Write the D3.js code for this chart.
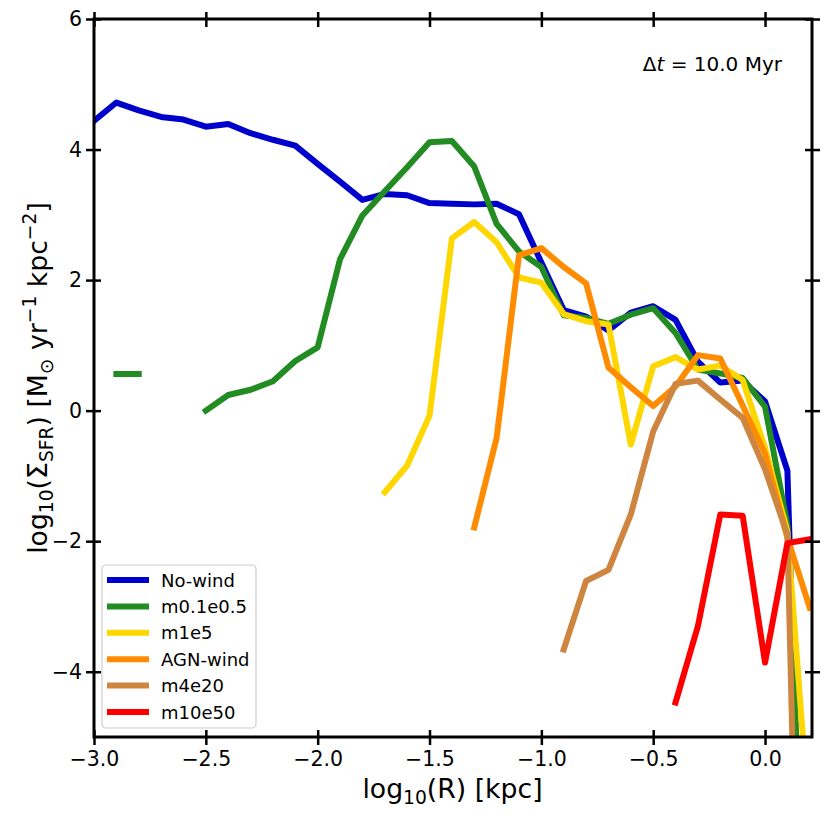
<!DOCTYPE html>
<html>
<head>
<meta charset="utf-8">
<script src="https://cdn.jsdelivr.net/npm/d3@7"></script>
<style>
  body { margin: 0; background: #fff; }
  svg, svg text { font-family: 'DejaVu Sans', sans-serif; }
</style>
</head>
<body>
<svg id="chart" width="831" height="816"></svg>
<script>
// radial bins, log10(R) [kpc]
const logR = [-3.0, -2.9, -2.8, -2.7, -2.6, -2.5, -2.4, -2.3, -2.2, -2.1, -2.0,
  -1.9, -1.8, -1.7, -1.6, -1.5, -1.4, -1.3, -1.2, -1.1, -1.0,
  -0.9, -0.8, -0.7, -0.6, -0.5, -0.4, -0.3, -0.2, -0.1, 0.0, 0.1, 0.2];

const N = NaN;
const noWind = [4.44, 4.72, 4.60, 4.50, 4.46, 4.35, 4.39, 4.25, 4.15, 4.06, 3.78,
  3.51, 3.23, 3.32, 3.30, 3.18, 3.17, 3.16, 3.17, 3.01, 2.27,
  1.54, 1.44, 1.23, 1.50, 1.60, 1.39, 0.75, 0.43, 0.46, 0.14, -0.92, -12.0];
const m01e05 = [N, 0.56, 0.56, N, N, 0.00, 0.24, 0.32, 0.45, 0.76, 0.97,
  2.32, 2.99, 3.36, 3.73, 4.11, 4.13, 3.74, 2.86, 2.44, 2.20,
  1.46, 1.42, 1.33, 1.47, 1.57, 1.19, 0.63, 0.57, 0.50, 0.06, -1.75, -10.0];
const m1e5 = [N, N, N, N, N, N, N, N, N, N, N,
  N, N, -1.25, -0.84, -0.08, 2.64, 2.89, 2.58, 2.04, 1.96,
  1.48, 1.37, 1.32, -0.52, 0.68, 0.82, 0.63, 0.69, 0.47, -0.57, -1.85, -6.4];
const agnWind = [N, N, N, N, N, N, N, N, N, N, N,
  N, N, N, N, N, N, -1.79, -0.42, 2.38, 2.49,
  2.20, 1.95, 0.66, 0.36, 0.07, 0.37, 0.85, 0.80, 0.08, -0.66, -1.95, -3.02];
const m4e20 = [N, N, N, N, N, N, N, N, N, N, N,
  N, N, N, N, N, N, N, N, N, N,
  -3.66, -2.61, -2.44, -1.59, -0.32, 0.41, 0.46, 0.17, -0.11, -0.90, -1.90, -16.0];
const m10e50 = [N, N, N, N, N, N, N, N, N, N, N,
  N, N, N, N, N, N, N, N, N, N,
  N, N, N, N, N, -4.47, -3.30, -1.59, -1.61, -3.86, -2.03, -1.97];

const seriesNames = ['No-wind', 'm0.1e0.5', 'm1e5', 'AGN-wind', 'm4e20', 'm10e50'];
const seriesValues = [noWind, m01e05, m1e5, agnWind, m4e20, m10e50];
const seriesColors = ['#0000cd', '#228b22', '#ffd700', '#ff8c00', '#cd853f', '#ff0000'];

const xTicks = [-3.0, -2.5, -2.0, -1.5, -1.0, -0.5, 0.0];
const yTicks = [-4, -2, 0, 2, 4, 6];

const svg = d3.select('#chart');
const cs = {
  margin: { left: 94, top: 19, right: 19, bottom: 79 },
  x: { domain: [-3.0, 0.21] },
  y: { domain: [-5, 6] },
  tick: { inner: 7, outer: 8, width: 2.5, font: 20.5 },
  label: 26.7,
  frame: 3,
  lineWidth: 6,
};
const W = 831 - cs.margin.left - cs.margin.right;
const H = 816 - cs.margin.top - cs.margin.bottom;

const x = d3.scaleLinear().domain(cs.x.domain).range([0, W]);
const y = d3.scaleLinear().domain(cs.y.domain).range([H, 0]);

const g = svg.append('g').attr('transform', `translate(${cs.margin.left},${cs.margin.top})`);

g.append('clipPath').attr('id', 'clip')
  .append('rect').attr('width', W).attr('height', H);

/**
 * draw the profiles
 */
const line = d3.line()
  .defined(d => !isNaN(d[1]))
  .x(d => x(d[0]))
  .y(d => y(d[1]));

const lines = g.append('g').attr('clip-path', 'url(#clip)');
seriesValues.forEach((vals, i) => {
  lines.append('path')
    .datum(logR.map((r, j) => [r, vals[j]]))
    .attr('d', line)
    .attr('fill', 'none')
    .attr('stroke', seriesColors[i])
    .attr('stroke-width', cs.lineWidth)
    .attr('stroke-linejoin', 'round')
    .attr('stroke-linecap', 'square');
});

/**
 * axes with in-out ticks on all four sides
 */
const fmtX = d3.format('.1f');
const fmtY = d3.format('d');
const styleAxis = (sel, horizontal, labels) => {
  sel.attr('font-family', 'DejaVu Sans').attr('font-size', cs.tick.font);
  sel.select('.domain').remove();
  sel.selectAll('.tick line')
    .attr('stroke', '#000')
    .attr('stroke-width', cs.tick.width)
    .attr(horizontal ? 'y1' : 'x1', -cs.tick.inner)
    .attr(horizontal ? 'y2' : 'x2', cs.tick.outer);
  sel.selectAll('.tick text')
    .attr('fill', '#000')
    .style('display', labels ? null : 'none');
};

g.append('g').attr('transform', `translate(0,${H})`)
  .call(d3.axisBottom(x).tickValues(xTicks).tickFormat(fmtX).tickPadding(8))
  .call(s => styleAxis(s, true, true));
g.append('g')
  .call(d3.axisTop(x).tickValues(xTicks).tickFormat(fmtX))
  .call(s => styleAxis(s, true, false));
g.append('g')
  .call(d3.axisLeft(y).tickValues(yTicks).tickFormat(fmtY).tickPadding(6))
  .call(s => { styleAxis(s, false, true); s.selectAll('.tick line').attr('x1', -cs.tick.outer).attr('x2', cs.tick.inner); });
g.append('g').attr('transform', `translate(${W},0)`)
  .call(d3.axisRight(y).tickValues(yTicks).tickFormat(fmtY))
  .call(s => { styleAxis(s, false, false); s.selectAll('.tick line').attr('x1', -cs.tick.inner).attr('x2', cs.tick.outer); });

g.append('rect')
  .attr('width', W).attr('height', H)
  .attr('fill', 'none').attr('stroke', '#000').attr('stroke-width', cs.frame);

/**
 * annotation
 */
const ann = g.append('text')
  .attr('x', W - 30).attr('y', 52)
  .attr('text-anchor', 'end')
  .attr('font-size', 20);
ann.append('tspan').text('Δ');
ann.append('tspan').attr('font-style', 'italic').text('t');
ann.append('tspan').text(' = 10.0 Myr');

/**
 * axis labels (mathtext-ish)
 */
const addRuns = (text, runs, size) => {
  let shift = 0;
  runs.forEach(([s, kind]) => {
    const target = kind === 'sub' ? size * 0.22 : kind === 'sup' ? -size * 0.42 : 0;
    text.append('tspan')
      .attr('dy', target - shift)
      .attr('font-size', kind ? size * 0.7 : size)
      .text(s);
    shift = target;
  });
};

const xl = g.append('text')
  .attr('x', W / 2 - 0.5).attr('y', H + 61)
  .attr('text-anchor', 'middle');
addRuns(xl, [['log'], ['10', 'sub'], ['(R) [kpc]']], cs.label);

const yl = g.append('text')
  .attr('transform', `translate(-47,${H / 2}) rotate(-90)`)
  .attr('text-anchor', 'middle');
addRuns(yl, [['log'], ['10', 'sub'], ['(Σ'], ['SFR', 'sub'], [') [M'], ['⊙', 'sub'],
  [' yr'], ['−1', 'sup'], [' kpc'], ['−2', 'sup'], [']']], cs.label);

/**
 * legend
 */
const leg = g.append('g').attr('transform', `translate(${102 - cs.margin.left},${565 - cs.margin.top})`);
leg.append('rect')
  .attr('width', 154).attr('height', 163).attr('rx', 4)
  .attr('fill', '#fff').attr('fill-opacity', 0.8)
  .attr('stroke', '#cccccc').attr('stroke-width', 1.2);
seriesNames.forEach((name, i) => {
  const ry = 15 + i * 26.4;
  leg.append('line')
    .attr('x1', 8).attr('x2', 44).attr('y1', ry).attr('y2', ry)
    .attr('stroke', seriesColors[i]).attr('stroke-width', cs.lineWidth)
    .attr('stroke-linecap', 'square');
  leg.append('text')
    .attr('x', 59).attr('y', ry + 6.5)
    .attr('font-size', 18)
    .text(name);
});
</script>
</body>
</html>
